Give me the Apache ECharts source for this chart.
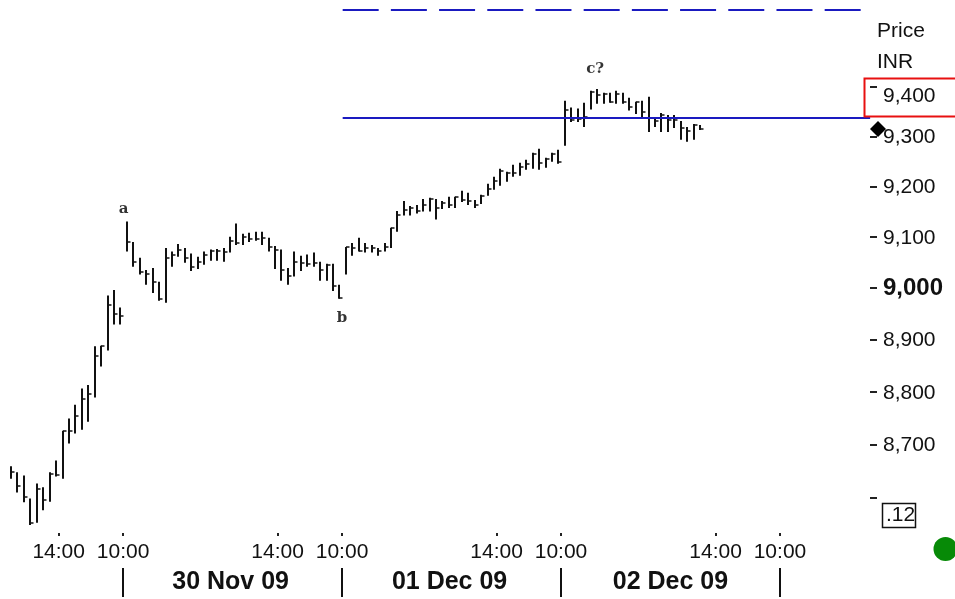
<!DOCTYPE html>
<html><head><meta charset="utf-8">
<style>html,body{margin:0;padding:0;background:#fff}#c{width:955px;height:599px}</style>
<script src="https://cdn.jsdelivr.net/npm/echarts@6/dist/echarts.min.js"></script>
</head><body><div id="c"></div>
<script>
const highs=[8659,8648,8642,8599,8627,8620,8648,8670,8726,8749,8775,8806,8813,8887,8888,8985,8996,8962,9130,9090,9059,9035,9039,9012,9078,9071,9086,9078,9067,9061,9071,9075,9076,9078,9100,9126,9106,9108,9110,9110,9098,9082,9075,9039,9071,9063,9065,9069,9051,9047,9047,9006,9080,9088,9098,9088,9084,9078,9088,9118,9151,9171,9161,9163,9175,9177,9175,9171,9179,9179,9191,9187,9173,9183,9205,9219,9235,9229,9243,9247,9253,9267,9275,9257,9267,9273,9372,9358,9356,9368,9392,9396,9388,9388,9392,9388,9378,9370,9372,9380,9339,9347,9343,9343,9331,9319,9325,9323];
const lows=[8636,8610,8592,8550,8554,8577,8593,8640,8636,8702,8721,8728,8743,8789,8848,8879,8929,8929,9071,9041,9026,9006,8990,8975,8971,9041,9061,9049,9033,9037,9045,9053,9053,9051,9069,9084,9084,9090,9092,9084,9071,9037,9014,9006,9022,9033,9041,9041,9014,9014,8994,8979,9026,9063,9071,9069,9069,9063,9071,9078,9110,9142,9142,9146,9150,9150,9134,9155,9157,9157,9169,9163,9157,9165,9181,9193,9201,9209,9219,9221,9233,9235,9233,9237,9249,9245,9281,9329,9329,9319,9354,9366,9366,9368,9366,9366,9352,9345,9339,9309,9319,9309,9309,9317,9293,9289,9293,9313];
const closes=[8648,8623,8601,8554,8616,8597,8644,8642,8725,8725,8753,8787,8796,8869,8888,8967,8950,8946,9090,9051,9031,9027,9012,8979,9059,9065,9075,9059,9041,9051,9065,9073,9073,9071,9092,9088,9100,9096,9096,9098,9080,9075,9035,9024,9051,9049,9047,9049,9035,9045,9004,8981,9080,9078,9073,9078,9078,9073,9080,9118,9144,9153,9157,9151,9163,9175,9157,9167,9163,9179,9173,9171,9163,9181,9195,9211,9231,9227,9227,9239,9245,9265,9247,9255,9265,9249,9354,9333,9335,9339,9390,9384,9386,9370,9386,9370,9360,9370,9349,9337,9331,9343,9333,9333,9317,9311,9323,9315];
const timeTicks=[7.4,17.4,41.4,51.4,75.4,85.4,109.4,119.4];
const timeLabels=['14:00','10:00','14:00','10:00','14:00','10:00','14:00','10:00'];
const dayBreaks=[17.4,51.4,85.4,119.4];
const dayCentres=[34.1,68.1,102.4];
const dayLabels=['30 Nov 09','01 Dec 09','02 Dec 09'];
const priceTicks=[8600,8700,8800,8900,9000,9100,9200,9300,9400];
const priceLabels=[8700,8800,8900,9000,9100,9200,9300,9400];
const resistance=[[51.5,9558],[132.8,9558]];
const level=[[51.5,9337],[133.4,9337]];
const notes=[[17.5,9130,'a'],[51.4,8979,'b'],[90.7,9396,'c?']];

const F='"Liberation Sans",Arial,sans-serif';
const chart=echarts.init(document.getElementById('c'),null,{renderer:'canvas'});
const grid={left:0,top:0,width:870,height:533};
const xBase={type:'value',min:-1.708,max:133.38,splitLine:{show:false},axisLine:{show:false,onZero:false}};
chart.setOption({
 animation:false,backgroundColor:'#fff',
 grid,
 xAxis:[
  Object.assign({},xBase,{position:'bottom',
   axisTick:{show:true,length:3,lineStyle:{color:'#222',width:2},customValues:timeTicks},
   axisLabel:{color:'#111',fontFamily:F,fontSize:21,margin:9,hideOverlap:false,showMinLabel:true,showMaxLabel:true,
     customValues:timeTicks,formatter:v=>timeLabels[timeTicks.indexOf(v)]||''}}),
  Object.assign({},xBase,{position:'bottom',offset:35,
   axisTick:{show:true,length:29,lineStyle:{color:'#111',width:2},customValues:dayBreaks},
   axisLabel:{color:'#111',fontFamily:F,fontWeight:'bold',fontSize:25,margin:2,hideOverlap:false,
     customValues:dayCentres,formatter:v=>dayLabels[dayCentres.indexOf(v)]||''}})
 ],
 yAxis:{type:'log',logBase:10,position:'right',min:8535,max:9578.5,splitLine:{show:false},axisLine:{show:false,onZero:false},
  axisTick:{show:true,length:7,lineStyle:{color:'#222',width:2},customValues:priceTicks},
  axisLabel:{margin:13,fontFamily:F,fontSize:21,color:'#111',padding:[2,0,0,0],customValues:priceLabels,hideOverlap:false,showMinLabel:true,showMaxLabel:true,
   formatter:v=>{const s=Math.round(v).toLocaleString('en-US');
     if(Math.round(v)===9000)return '{b|'+s+'}';
     if(Math.round(v)===9400)return '{d|'+s+'}';
     return s;},
   rich:{b:{fontWeight:'bold',fontSize:24,color:'#111',fontFamily:F},
         d:{fontSize:21,color:'#111',fontFamily:F,padding:[16,0,0,0]}}}},
 series:[
  {type:'custom',name:'Price',clip:false,
   data:highs.map((h,i)=>[i,h,lows[i],closes[i]]),
   encode:{x:0,y:[1,2,3]},
   renderItem(params,api){
     const x=Math.round(api.coord([api.value(0),api.value(1)])[0]);
     const yh=api.coord([api.value(0),api.value(1)])[1];
     const yl=api.coord([api.value(0),api.value(2)])[1];
     const yc=Math.round(api.coord([api.value(0),api.value(3)])[1]);
     const st={stroke:'#111',lineWidth:2,fill:null};
     return {type:'group',children:[
       {type:'line',shape:{x1:x,y1:yh,x2:x,y2:yl},style:st},
       {type:'line',shape:{x1:x,y1:yc,x2:x+3.5,y2:yc},style:{stroke:'#111',lineWidth:1.5,fill:null}}
     ]};
   }},
  {type:'line',name:'Upper target',data:resistance,showSymbol:false,symbol:'none',silent:true,
   lineStyle:{color:'#1a1ac0',width:2,type:[36,12.2]}},
  {type:'line',name:'Level',data:level,showSymbol:false,symbol:'none',silent:true,clip:false,
   lineStyle:{color:'#1a1ac0',width:2}},
  {type:'scatter',name:'Wave labels',data:notes.map(n=>[n[0],n[1],n[2]]),symbolSize:0,silent:true,
   label:{show:true,formatter:p=>p.value[2],position:'top',distance:0,
     fontFamily:'"DejaVu Serif",serif',fontWeight:'bold',fontSize:15,color:'#000'},
   labelLayout:p=>{const t=notes[p.dataIndex][2];
     return {dy:t==='a'?-5:t==='b'?27:-12};}}
 ],
 graphic:[
  {type:'rect',shape:{x:864.5,y:78.5,width:100,height:38},style:{fill:'none',stroke:'#e81010',lineWidth:2},z:5},
  {type:'polygon',shape:{points:[[878,121],[886,129],[878,137],[870,129]]},style:{fill:'#000'},z:6},
  {type:'text',x:877,y:21,style:{text:'Price',fontFamily:F,fontSize:21,fill:'#111'}},
  {type:'text',x:877,y:52,style:{text:'INR',fontFamily:F,fontSize:21,fill:'#111'}},
  {type:'rect',shape:{x:882.5,y:503.5,width:33,height:24},style:{fill:'#fff',stroke:'#111',lineWidth:1.5}},
  {type:'text',x:886,y:505,style:{text:'.12',fontFamily:F,fontSize:21,fill:'#111'}},
  {type:'circle',shape:{cx:945.5,cy:549,r:12},style:{fill:'#078a07'}}
 ]
});
</script></body></html>
